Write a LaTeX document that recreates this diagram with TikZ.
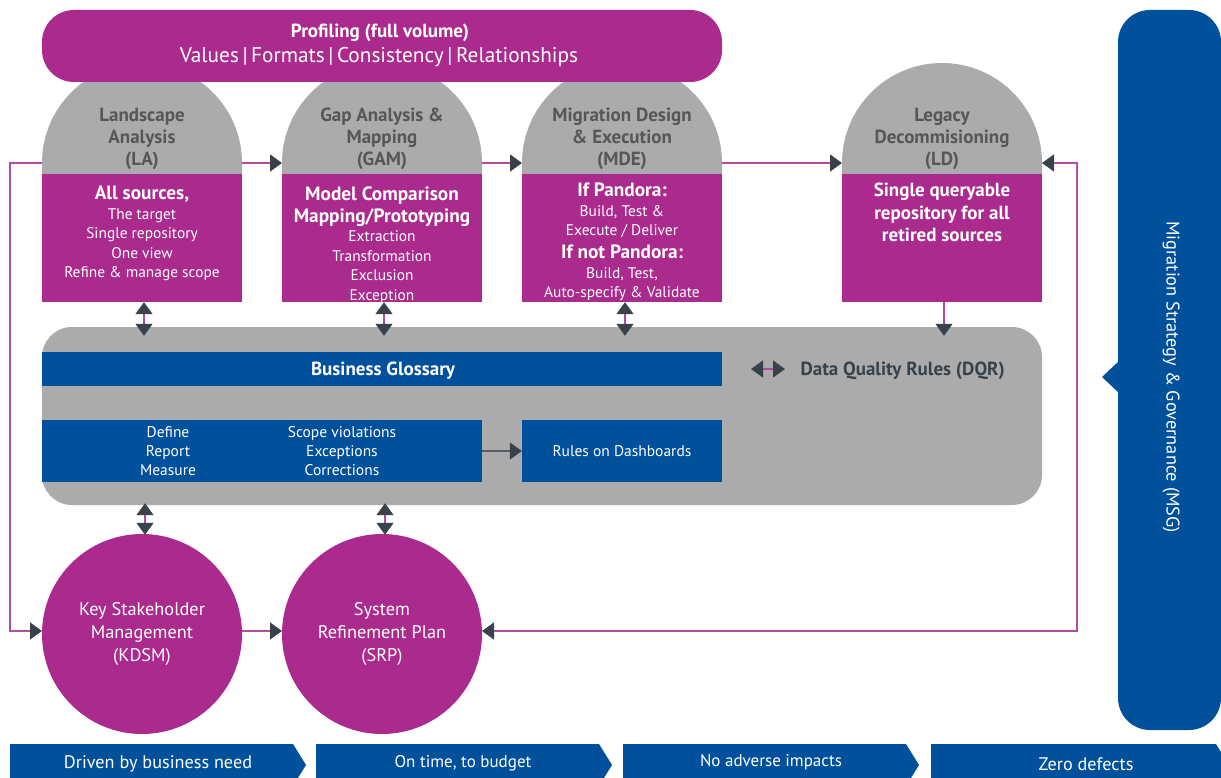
\documentclass[tikz,border=0pt]{standalone}
\usepackage{fontspec}
\setmainfont{PT Sans}
\usetikzlibrary{arrows.meta,calc}
\definecolor{pur}{HTML}{AA2A8D}
\definecolor{gry}{HTML}{ABABAB}
\definecolor{blu}{HTML}{00509B}
\definecolor{dark}{HTML}{37424A}
\definecolor{linec}{HTML}{B54CA0}
\definecolor{headc}{HTML}{555759}
\newcommand{\bx}{\bfseries\fontsize{19.3}{20}\selectfont}
\begin{document}
\begin{tikzpicture}[x=1pt,y=1pt,
  >={Triangle[width=17pt,length=12pt,color=dark]},
  conn/.style={draw=linec,line width=1.4pt},
  pbox/.style={fill=pur,minimum width=200pt,minimum height=128pt,inner sep=0pt},
  headtxt/.style={text=headc,align=center,font=\bfseries\fontsize{19}{22}\selectfont},
  boxtxt/.style={text=white,align=center,inner sep=0pt,font=\fontsize{15.4}{19.5}\selectfont},
  bluebox/.style={fill=blu,inner sep=0pt},
  circ/.style={circle,fill=pur,minimum size=200pt,inner sep=0pt,text=white,align=center,font=\fontsize{18.3}{23}\selectfont},
  chev/.style={fill=blu},
  chevtxt/.style={text=white,font=\fontsize{18.2}{20}\selectfont}
]
\useasboundingbox (0,0) rectangle (1221,-778);
\clip (0,0) rectangle (1221,-778);

% domes
\fill[gry] (42,-174) -- (42,-163) arc[start angle=180,end angle=0,radius=100] -- (242,-174) -- cycle;
\fill[gry] (282,-174) -- (282,-163) arc[start angle=180,end angle=0,radius=100] -- (482,-174) -- cycle;
\fill[gry] (522,-174) -- (522,-163) arc[start angle=180,end angle=0,radius=100] -- (722,-174) -- cycle;
\fill[gry] (842,-174) -- (842,-163) arc[start angle=180,end angle=0,radius=100] -- (1042,-174) -- cycle;

% profiling banner
\node[fill=pur,rounded corners=32pt,minimum width=680pt,minimum height=72pt,inner sep=0pt] (prof) at (382,-46) {};
\node[text=white,font=\bfseries\fontsize{19}{20}\selectfont] (proft) at (380,-33) {Profiling (full volume)};
\node[text=white,font=\fontsize{21.3}{24}\selectfont] (profv) at (379,-57) {Values\,|\,Formats\,|\,Consistency\,|\,Relationships};

% headings
\node[headtxt] (LAh) at (142,-139) {Landscape\\Analysis\\(LA)};
\node[headtxt] (GAMh) at (382,-139) {Gap Analysis \&\\Mapping\\(GAM)};
\node[headtxt] (MDEh) at (622,-139) {Migration Design\\\& Execution\\(MDE)};
\node[headtxt] (LDh) at (942,-139) {Legacy\\Decommisioning\\(LD)};

% purple boxes
\node[pbox] (LAbox) at (142,-238) {};
\node[pbox] (GAMbox) at (382,-238) {};
\node[pbox] (MDEbox) at (622,-238) {};
\node[pbox] (LDbox) at (942,-238) {};

\node[boxtxt,anchor=north] (LAt) at (142,-186) {{\bx All sources,}\\The target\\Single repository\\One view\\Refine \& manage scope};
\node[boxtxt,anchor=north] (GAMt) at (382,-187) {{\bx Model Comparison}\\[2pt]{\bx Mapping/Prototyping}\\Extraction\\Transformation\\Exclusion\\Exception};
\node[boxtxt,anchor=north] (MDEt) at (622,-183) {{\bx If Pandora:}\\Build, Test \&\\Execute / Deliver\\[3.5pt]{\bx If not Pandora:}\\Build, Test,\\Auto-specify \& Validate};
\node[boxtxt,anchor=north,font=\bfseries\fontsize{19}{22.5}\selectfont] (LDt) at (942,-183) {Single queryable\\repository for all\\retired sources};

% panel
\node[fill=gry,rounded corners=30pt,minimum width=1000pt,minimum height=178pt,inner sep=0pt] (panel) at (542,-416) {};
\node[bluebox,minimum width=680pt,minimum height=34pt] (bg) at (382,-369) {};
\node[text=white,font=\bfseries\fontsize{19}{20}\selectfont] (bgt) at (383,-371) {Business Glossary};
\node[bluebox,minimum width=440pt,minimum height=62pt] (drm) at (262,-451) {};
\node[text=white,align=center,font=\fontsize{15.5}{19}\selectfont] (drm1) at (168,-451) {Define\\Report\\Measure};
\node[text=white,align=center,font=\fontsize{15.5}{19}\selectfont] (drm2) at (342,-451) {Scope violations\\Exceptions\\Corrections};
\node[bluebox,minimum width=200pt,minimum height=62pt,text=white,font=\fontsize{15.5}{18}\selectfont] (rules) at (622,-451) {Rules on Dashboards};
\coordinate (dqa) at (751,-369);
\coordinate (dqb) at (785,-369);
\node[anchor=west,text=dark,font=\bfseries\fontsize{19}{20}\selectfont] (dqr) at (797,-371) {Data Quality Rules (DQR)};

% circles
\node[circ] (KDSM) at (142,-634) {Key Stakeholder\\Management\\(KDSM)};
\node[circ] (SRP) at (382,-634) {System\\Refinement Plan\\(SRP)};

% MSG
\fill[blu,rounded corners=32pt] (1118,-10) rectangle (1221,-730);
\fill[blu] (1119,-361) -- (1102,-377) -- (1119,-393) -- cycle;
\node[rotate=-90,text=white,font=\fontsize{18.3}{20}\selectfont] (MSG) at (1171,-377) {Migration Strategy \& Governance (MSG)};

% connectors
\coordinate (LAw) at (42,-163);
\coordinate (LAe) at (242,-163);
\coordinate (GAMw) at (282,-163);
\coordinate (GAMe) at (482,-163);
\coordinate (MDEw) at (522,-163);
\coordinate (MDEe) at (722,-163);
\coordinate (LDw) at (842,-163);
\coordinate (LDe) at (1042,-163);
\coordinate (Lc) at (10,-163);
\coordinate (Rc) at (1077,-163);
\coordinate (KDSMw) at (42,-631);
\coordinate (KDSMe) at (242,-631);
\coordinate (SRPw) at (282,-631);
\coordinate (SRPe) at (482,-631);

\draw[conn,->] (LAe) -- (GAMw);
\draw[conn,->] (GAMe) -- (MDEw);
\draw[conn,->] (MDEe) -- (LDw);
\draw[conn,->] (LAw) -- (Lc) |- (KDSMw);
\draw[conn,<->] (SRPe) -| (Rc) -- (LDe);
\draw[conn,->] (KDSMe) -- (SRPw);

\draw[conn,<->] ([xshift=2pt]LAbox.south) -- ([xshift=2pt,yshift=-9pt]LAbox.south |- panel.north);
\draw[conn,<->] ([xshift=2pt]GAMbox.south) -- ([xshift=2pt,yshift=-9pt]GAMbox.south |- panel.north);
\draw[conn,<->] ([xshift=3pt]MDEbox.south) -- ([xshift=3pt,yshift=-9pt]MDEbox.south |- panel.north);
\draw[conn,->] ([xshift=2pt]LDbox.south) -- ([xshift=2pt,yshift=-9pt]LDbox.south |- panel.north);
\draw[conn,<->] ([xshift=3pt,yshift=2pt]KDSM.north |- panel.south) -- ([xshift=3pt,yshift=-1pt]KDSM.north);
\draw[conn,<->] ([xshift=3pt,yshift=2pt]SRP.north |- panel.south) -- ([xshift=3pt,yshift=-1pt]SRP.north);
\draw[conn,<->] (dqa) -- (dqb);
\draw[draw=dark!85,line width=1.4pt,->] (drm.east) -- (rules.west);

% chevrons
\fill[chev] (10,-744) -- (293,-744) -- (306,-765) -- (293,-786) -- (10,-786) -- cycle;
\fill[chev] (316,-744) -- (599,-744) -- (612,-765) -- (599,-786) -- (316,-786) -- cycle;
\fill[chev] (623,-744) -- (906,-744) -- (919,-765) -- (906,-786) -- (623,-786) -- cycle;
\fill[chev] (931,-744) -- (1216,-744) -- (1229,-765) -- (1216,-786) -- (931,-786) -- cycle;
\node[chevtxt] (c1) at (158,-764) {Driven by business need};
\node[chevtxt,font=\fontsize{17}{20}\selectfont] (c2) at (463,-763) {On time, to budget};
\node[chevtxt,font=\fontsize{17}{20}\selectfont] (c3) at (771,-762) {No adverse impacts};
\node[chevtxt] (c4) at (1086,-764) {Zero defects};
\end{tikzpicture}
\end{document}
